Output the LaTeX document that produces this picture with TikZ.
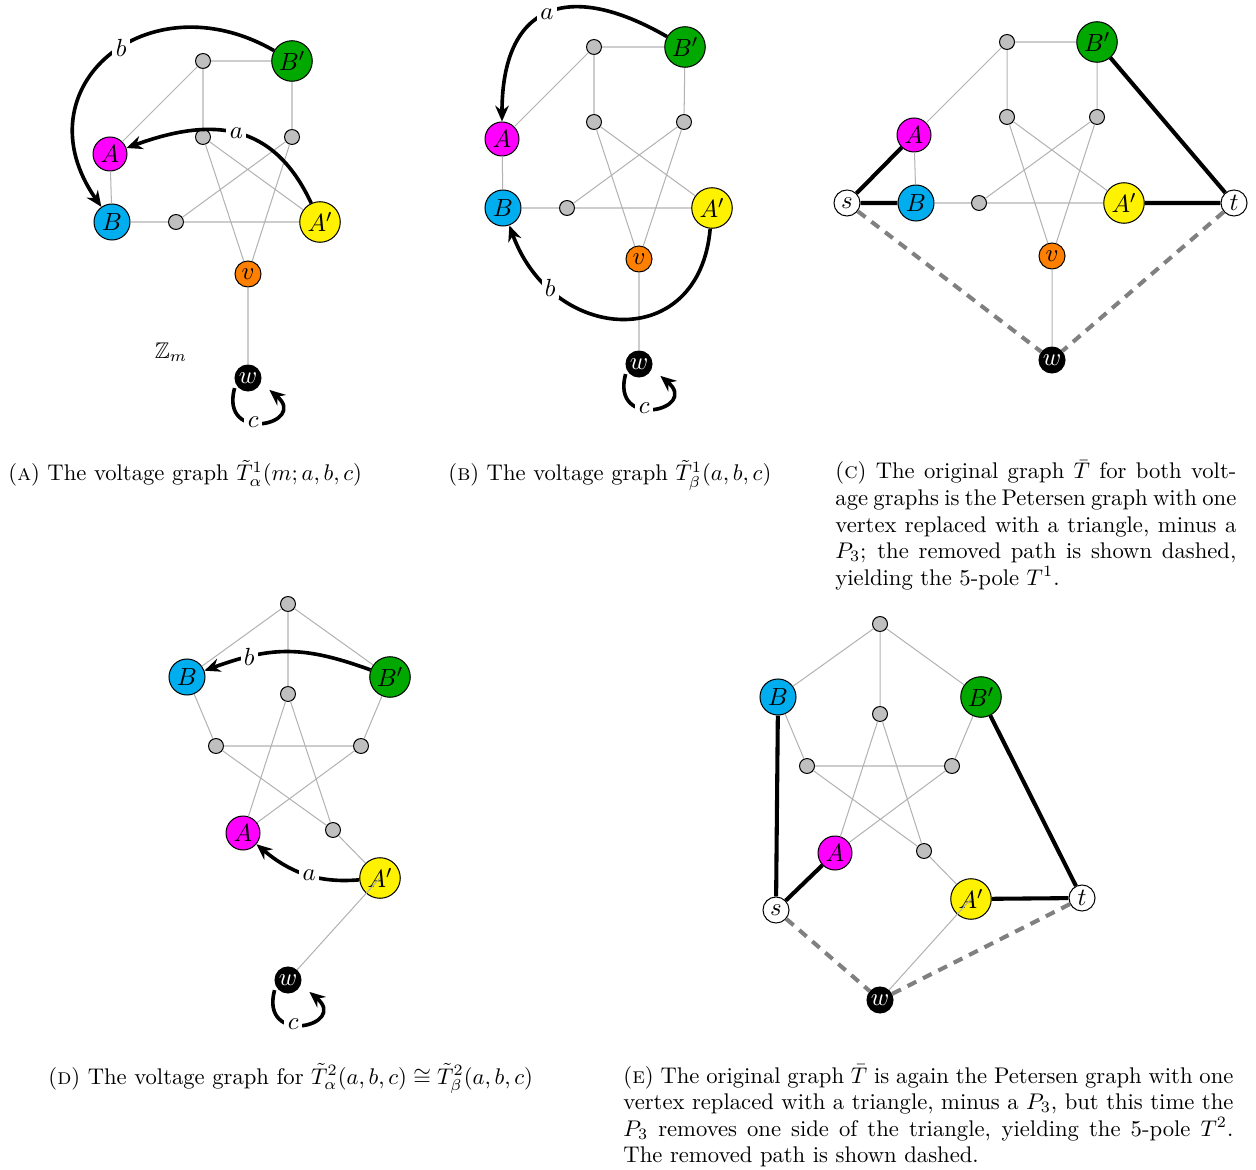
\documentclass[tikz,border=0pt]{standalone}
\usepackage{amsmath,amssymb}
\usepackage{xcolor}
\usepackage{tikz}
\usetikzlibrary{arrows.meta,positioning}

\definecolor{magA}{RGB}{255,0,255}
\definecolor{cyanB}{RGB}{0,174,239}
\definecolor{greenBp}{RGB}{0,168,0}
\definecolor{yellowAp}{RGB}{255,242,0}
\definecolor{orangeV}{RGB}{255,127,0}

\tikzset{
  vx/.style={circle, draw, line width=0.45pt, inner sep=0pt, font=\fontsize{11}{13}\selectfont},
  gv/.style={circle, draw, fill=gray!50, line width=0.45pt, inner sep=0pt, minimum size=6.6pt},
  nA/.style={vx, fill=magA, minimum size=15pt},
  nB/.style={vx, fill=cyanB, minimum size=15.9pt},
  nBp/.style={vx, fill=greenBp, minimum size=17.9pt},
  nAp/.style={vx, fill=yellowAp, minimum size=17.9pt},
  nv/.style={vx, fill=orangeV, minimum size=11.5pt},
  nw/.style={vx, fill=black, text=white, minimum size=11.5pt},
  nst/.style={vx, fill=white, minimum size=11.5pt},
  ed/.style={draw=gray!60, line width=0.45pt},
  volt/.style={line width=1.6pt, -{Stealth[length=7pt,width=6pt,inset=2.3pt]}},
  lbl/.style={fill=white, inner sep=1.5pt, font=\fontsize{11}{13}\selectfont},
  pth/.style={line width=1.8pt},
  rem/.style={line width=1.8pt, gray, dash pattern=on 4.3pt off 3.3pt},
  vloop/.style={volt, shorten <=2pt, shorten >=5pt},
  capt/.style={anchor=base west, inner sep=0, font=\fontsize{10}{11.7}\selectfont},
}

\begin{document}
\begin{tikzpicture}[x=0.4415pt, y=-0.4415pt]
    \useasboundingbox (0,0) rectangle (1256,1170);

    % (a) voltage graph T^1_alpha
    \node[gv] (a-g1) at (203,61) {};
    \node[nBp] (a-Bp) at (292,61) {$B'$};
    \node[gv] (a-g2) at (203,137) {};
    \node[gv] (a-g3) at (292,137) {};
    \node[nA] (a-A) at (110,154) {$A$};
    \node[nB] (a-B) at (112,222) {$B$};
    \node[gv] (a-g4) at (176,222) {};
    \node[nAp] (a-Ap) at (320,222) {$A'$};
    \node[nv] (a-v) at (248,274) {$v$};
    \node[nw] (a-w) at (248,378) {$w$};
    \node (a-Z) at (171,352) {$\mathbb{Z}_m$};
    \draw[ed] (a-g1) -- (a-Bp) (a-g1) -- (a-A) (a-g1) -- (a-g2) (a-Bp) -- (a-g3)
        (a-A) -- (a-B) (a-B) -- (a-g4) (a-g4) -- (a-Ap) (a-g4) -- (a-g3)
        (a-g2) -- (a-Ap) (a-g2) -- (a-v) (a-g3) -- (a-v) (a-v) -- (a-w);
    \draw[volt] (a-Bp) to[out=150,in=125,looseness=1.6] node[lbl,pos=0.45] {$b$} (a-B);
    \draw[volt] (a-Ap) to[out=115,in=20,looseness=1.2] node[lbl] {$a$} (a-A);
    \draw[vloop] (a-w.-155) .. controls +(-105:28pt) and +(-40:28pt) .. node[lbl,pos=0.42] {$c$} (a-w.-20);

    % (b) voltage graph T^1_beta
    \node[gv] (b-g1) at (594,47) {};
    \node[nBp] (b-Bp) at (685,47) {$B'$};
    \node[gv] (b-g2) at (594,122) {};
    \node[gv] (b-g3) at (684,122) {};
    \node[nA] (b-A) at (502,139) {$A$};
    \node[nB] (b-B) at (503,208) {$B$};
    \node[gv] (b-g4) at (567,208) {};
    \node[nAp] (b-Ap) at (712,208) {$A'$};
    \node[nv] (b-v) at (639,259) {$v$};
    \node[nw] (b-w) at (639,364) {$w$};
    \draw[ed] (b-g1) -- (b-Bp) (b-g1) -- (b-A) (b-g1) -- (b-g2) (b-Bp) -- (b-g3)
        (b-A) -- (b-B) (b-B) -- (b-g4) (b-g4) -- (b-Ap) (b-g4) -- (b-g3)
        (b-g2) -- (b-Ap) (b-g2) -- (b-v) (b-g3) -- (b-v) (b-v) -- (b-w);
    \draw[volt] (b-Bp) to[out=150,in=90,looseness=1.6] node[lbl] {$a$} (b-A);
    \draw[volt] (b-Ap) to[out=-95,in=-70,looseness=1.6] node[lbl,pos=0.78] {$b$} (b-B);
    \draw[vloop] (b-w.-155) .. controls +(-105:28pt) and +(-40:28pt) .. node[lbl,pos=0.42] {$c$} (b-w.-20);

    % (c) original graph for T^1
    \node[gv] (c-g1) at (1007,42) {};
    \node[nBp] (c-Bp) at (1097,42) {$B'$};
    \node[gv] (c-g2) at (1007,117) {};
    \node[gv] (c-g3) at (1097,117) {};
    \node[nA] (c-A) at (914,135) {$A$};
    \node[nB] (c-B) at (916,203) {$B$};
    \node[gv] (c-g4) at (979,203) {};
    \node[nAp] (c-Ap) at (1124,203) {$A'$};
    \node[nst] (c-s) at (847,203) {$s$};
    \node[nst] (c-t) at (1234,203) {$t$};
    \node[nv] (c-v) at (1052,256) {$v$};
    \node[nw] (c-w) at (1052,360) {$w$};
    \draw[ed] (c-g1) -- (c-Bp) (c-g1) -- (c-A) (c-g1) -- (c-g2) (c-Bp) -- (c-g3)
        (c-A) -- (c-B) (c-B) -- (c-g4) (c-g4) -- (c-Ap) (c-g4) -- (c-g3)
        (c-g2) -- (c-Ap) (c-g2) -- (c-v) (c-g3) -- (c-v) (c-v) -- (c-w);
    \draw[pth] (c-s) -- (c-A) (c-s) -- (c-B) (c-Ap) -- (c-t) (c-Bp) -- (c-t);
    \draw[rem] (c-s) -- (c-w) (c-t) -- (c-w);

    % (d) voltage graph T^2
    \node[gv] (d-g1) at (288,604) {};
    \node[nB] (d-B) at (187,677) {$B$};
    \node[nBp] (d-Bp) at (390,677) {$B'$};
    \node[gv] (d-g2) at (288,694) {};
    \node[gv] (d-g3) at (216,746) {};
    \node[gv] (d-g4) at (361,746) {};
    \node[nA] (d-A) at (243,833) {$A$};
    \node[gv] (d-g5) at (333,830) {};
    \node[nAp] (d-Ap) at (380,878) {$A'$};
    \node[nw] (d-w) at (288,980) {$w$};
    \draw[ed] (d-g1) -- (d-B) (d-g1) -- (d-Bp) (d-g1) -- (d-g2) (d-B) -- (d-g3)
        (d-Bp) -- (d-g4) (d-g3) -- (d-g4) (d-g3) -- (d-g5) (d-g4) -- (d-A)
        (d-g2) -- (d-A) (d-g2) -- (d-g5) (d-g5) -- (d-Ap) (d-w) -- (d-Ap.center);
    \draw[volt] (d-Bp) to[out=160,in=20,looseness=1.1] node[lbl,pos=0.75] {$b$} (d-B);
    \draw[volt] (d-Ap) to[out=185,in=-40] node[lbl,pos=0.45] {$a$} (d-A);
    \draw[vloop] (d-w.-155) .. controls +(-105:28pt) and +(-40:28pt) .. node[lbl,pos=0.42] {$c$} (d-w.-20);

    % (e) original graph for T^2
    \node[gv] (e-g1) at (880,624) {};
    \node[nB] (e-B) at (778,697) {$B$};
    \node[nBp] (e-Bp) at (981,697) {$B'$};
    \node[gv] (e-g2) at (880,714) {};
    \node[gv] (e-g3) at (807,766) {};
    \node[gv] (e-g4) at (952,766) {};
    \node[nA] (e-A) at (835,853) {$A$};
    \node[gv] (e-g5) at (924,851) {};
    \node[nAp] (e-Ap) at (971,899) {$A'$};
    \node[nst] (e-s) at (776,910) {$s$};
    \node[nst] (e-t) at (1082,898) {$t$};
    \node[nw] (e-w) at (880,1000) {$w$};
    \draw[ed] (e-g1) -- (e-B) (e-g1) -- (e-Bp) (e-g1) -- (e-g2) (e-B) -- (e-g3)
        (e-Bp) -- (e-g4) (e-g3) -- (e-g4) (e-g3) -- (e-g5) (e-g4) -- (e-A)
        (e-g2) -- (e-A) (e-g2) -- (e-g5) (e-g5) -- (e-Ap) (e-w) -- (e-Ap.center);
    \draw[pth] (e-B) -- (e-s) (e-s) -- (e-A) (e-Ap) -- (e-t) (e-Bp) -- (e-t);
    \draw[rem] (e-s) -- (e-w) (e-t) -- (e-w);

    % captions
    \node[capt] (cap-a) at (8,481)
        {(\textsc{a}) The voltage graph $\tilde{T}^1_\alpha(m;a,b,c)$};
    \node[capt] (cap-b) at (448,481)
        {(\textsc{b}) The voltage graph $\tilde{T}^1_\beta(a,b,c)$};
    \node[capt] (cap-c) at (835,479)
        {\parbox[t]{177pt}{(\textsc{c}) The original graph $\bar{T}$ for both volt-\linebreak
        age graphs is the Petersen graph with one\linebreak
        vertex replaced with a triangle, minus a\linebreak
        $P_3$; the removed path is shown dashed,\linebreak
        yielding the 5-pole $T^1$.}};
    \node[capt] (cap-d) at (48,1084)
        {(\textsc{d}) The voltage graph for $\tilde{T}^2_\alpha(a,b,c)\cong\tilde{T}^2_\beta(a,b,c)$};
    \node[capt] (cap-e) at (623,1083)
        {\parbox[t]{269.3pt}{(\textsc{e}) The original graph $\bar{T}$ is again the Petersen graph with one\linebreak
        vertex replaced with a triangle, minus a $P_3$, but this time the\linebreak
        $P_3$ removes one side of the triangle, yielding the 5-pole $T^2$.\linebreak
        The removed path is shown dashed.}};
\end{tikzpicture}
\end{document}
